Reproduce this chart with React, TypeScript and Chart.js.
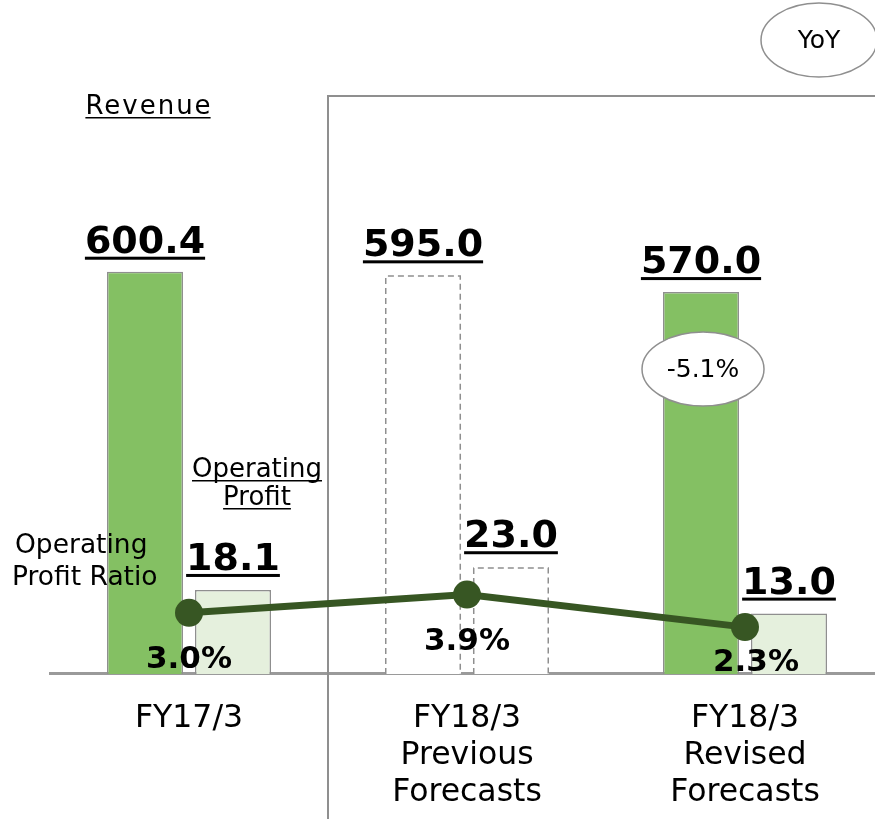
import React, { useEffect, useRef } from "react";
import { Chart, registerables } from "chart.js";

Chart.register(...registerables);

// ---- data ----
const categories: (string | string[])[] = [
  "FY17/3",
  ["FY18/3", "Previous", "Forecasts"],
  ["FY18/3", "Revised", "Forecasts"],
];
const revenue = [600.4, 595.0, 570.0];
const operatingProfit = [18.1, 23.0, 13.0];
const operatingProfitRatio = [3.0, 3.9, 2.3];
const isPreviousForecast = [false, true, false];
const yoyRevenueChange = "-5.1%";

const FONT = "'DejaVu Sans', Verdana, sans-serif";
const GRAY = "#8f8f8f";
const GREEN = "#84c063";
const LIGHT = "#e5f0dd";
const DARK = "#375623";

const CANVAS_W = 898;
const CANVAS_H = 849;

function underlinedText(
  ctx: CanvasRenderingContext2D,
  text: string,
  cx: number,
  baseline: number,
  font: string,
  ulOffset: number,
  ulThick: number,
  spacing = 0
) {
  ctx.save();
  ctx.font = font;
  (ctx as any).letterSpacing = `${spacing}px`;
  ctx.textAlign = "left";
  ctx.textBaseline = "alphabetic";
  ctx.fillStyle = "#000";
  const w = ctx.measureText(text).width - spacing;
  ctx.fillText(text, cx - w / 2, baseline);
  ctx.fillRect(cx - w / 2, baseline + ulOffset, w, ulThick);
  ctx.restore();
}

function ellipse(ctx: CanvasRenderingContext2D, cx: number, cy: number, rx: number, ry: number, text: string) {
  ctx.save();
  ctx.beginPath();
  ctx.ellipse(cx, cy, rx, ry, 0, 0, Math.PI * 2);
  ctx.fillStyle = "#fff";
  ctx.fill();
  ctx.lineWidth = 1.5;
  ctx.strokeStyle = GRAY;
  ctx.stroke();
  ctx.fillStyle = "#000";
  ctx.font = `25px ${FONT}`;
  ctx.textAlign = "center";
  ctx.textBaseline = "middle";
  ctx.fillText(text, cx, cy + 1);
  ctx.restore();
}

const decorPlugin = {
  id: "decor",
  beforeDatasetsDraw(chart: any) {
    const { ctx, chartArea, scales } = chart;
    const xDiv = scales.x.getPixelForValue(0.5);
    ctx.save();
    ctx.strokeStyle = GRAY;
    ctx.lineWidth = 2;
    ctx.beginPath();
    ctx.moveTo(xDiv, chart.height);
    ctx.lineTo(xDiv, chartArea.top);
    ctx.lineTo(chart.width, chartArea.top);
    ctx.stroke();
    ctx.restore();
  },
  beforeDatasetDraw(chart: any, args: any) {
    if (args.index !== 0) return;
    const { ctx } = chart;
    // dashed outlines for the previous-forecast bars (drawn under the ratio line)
    ctx.save();
    ctx.strokeStyle = GRAY;
    ctx.lineWidth = 1.5;
    ctx.setLineDash([6, 4]);
    [1, 2].forEach((di) => {
      const meta = chart.getDatasetMeta(di);
      meta.data.forEach((bar: any, i: number) => {
        if (!isPreviousForecast[i]) return;
        const l = bar.x - bar.width / 2 + 0.75;
        const r = bar.x + bar.width / 2 - 0.75;
        ctx.beginPath();
        ctx.moveTo(l, bar.base);
        ctx.lineTo(l, bar.y + 0.75);
        ctx.lineTo(r, bar.y + 0.75);
        ctx.lineTo(r, bar.base);
        ctx.stroke();
      });
    });
    ctx.restore();
  },
  afterDatasetsDraw(chart: any) {
    const { ctx } = chart;
    ctx.save();
    const revMeta = chart.getDatasetMeta(1);
    const opMeta = chart.getDatasetMeta(2);
    revMeta.data.forEach((bar: any, i: number) => {
      underlinedText(ctx, revenue[i].toFixed(1), bar.x, bar.y - 19, `bold 38px ${FONT}`, 4, 3);
    });
    opMeta.data.forEach((bar: any, i: number) => {
      underlinedText(ctx, operatingProfit[i].toFixed(1), bar.x, bar.y - 20, `bold 38px ${FONT}`, 4, 3);
    });
    const lineMeta = chart.getDatasetMeta(0);
    const bottom = chart.chartArea.bottom;
    ctx.font = `bold 31px ${FONT}`;
    ctx.textAlign = "center";
    ctx.textBaseline = "alphabetic";
    ctx.fillStyle = "#000";
    lineMeta.data.forEach((pt: any, i: number) => {
      let by = pt.y + 55;
      let bx = pt.x;
      if (by > bottom - 3) {
        by = bottom - 3;
        bx = pt.x + 11;
      }
      ctx.fillText(operatingProfitRatio[i].toFixed(1) + "%", bx, by);
    });

    underlinedText(ctx, "Revenue", 148, 114, `26px ${FONT}`, 3, 1.5, 2);
    underlinedText(ctx, "Operating", 257, 477, `26px ${FONT}`, 3, 1.5);
    underlinedText(ctx, "Profit", 257, 505, `26px ${FONT}`, 3, 1.5);
    ctx.font = `26.5px ${FONT}`;
    ctx.textAlign = "left";
    ctx.fillStyle = "#000";
    ctx.fillText("Operating", 15, 553);
    ctx.fillText("Profit Ratio", 12, 585);

    ellipse(ctx, 819, 40, 58, 37, "YoY");
    const rb = revMeta.data[2];
    ellipse(ctx, rb.x + 2, rb.y + 77, 61, 37, yoyRevenueChange);
    ctx.restore();
  },
};

export default function App() {
  const ref = useRef<HTMLCanvasElement | null>(null);
  useEffect(() => {
    if (!ref.current) return;
    const chart = new Chart(ref.current, {
      type: "bar",
      data: {
        labels: categories as any,
        datasets: [
          {
            type: "line",
            label: "Operating Profit Ratio",
            data: operatingProfitRatio,
            yAxisID: "yRatio",
            borderColor: DARK,
            backgroundColor: DARK,
            borderWidth: 7,
            pointRadius: 14,
            pointBorderWidth: 0,
            pointBackgroundColor: DARK,
            order: 0,
          } as any,
          {
            label: "Revenue",
            data: revenue,
            yAxisID: "yRev",
            backgroundColor: isPreviousForecast.map((p) => (p ? "#ffffff" : GREEN)),
            borderColor: isPreviousForecast.map((p) => (p ? "rgba(0,0,0,0)" : GRAY)),
            borderWidth: isPreviousForecast.map((p) => (p ? 0 : 1.5)),
            order: 1,
          },
          {
            label: "Operating Profit",
            data: operatingProfit,
            yAxisID: "yOp",
            backgroundColor: isPreviousForecast.map((p) => (p ? "#ffffff" : LIGHT)),
            borderColor: isPreviousForecast.map((p) => (p ? "rgba(0,0,0,0)" : GRAY)),
            borderWidth: isPreviousForecast.map((p) => (p ? 0 : 1.5)),
            order: 1,
          },
        ],
      },
      options: {
        responsive: false,
        maintainAspectRatio: false,
        animation: false,
        devicePixelRatio: 1,
        layout: { padding: { top: 96, left: 50, right: 6, bottom: 11 } },
        datasets: {
          bar: { categoryPercentage: 0.633, barPercentage: 0.864 },
        },
        plugins: {
          legend: { display: false },
          tooltip: { enabled: false },
        },
        scales: {
          x: {
            grid: { display: false, drawTicks: false },
            border: { display: true, color: "#9a9a9a", width: 3 },
            ticks: {
              color: "#000",
              font: { family: FONT, size: 31.5, lineHeight: 1.165 },
              padding: 27,
              maxRotation: 0,
              autoSkip: false,
            },
          },
          yRev: { display: false, min: 0, max: 862.7 },
          yOp: { display: false, min: 0, max: 124.6 },
          yRatio: { display: false, min: 0, max: 28.4 },
        },
      },
      plugins: [decorPlugin],
    });
    return () => chart.destroy();
  }, []);

  return (
    <div
      style={{
        position: "fixed",
        left: 0,
        top: 0,
        width: 875,
        height: 819,
        overflow: "hidden",
        background: "#fff",
      }}
    >
      <div style={{ width: CANVAS_W, height: CANVAS_H }}>
        <canvas
          ref={ref}
          width={CANVAS_W}
          height={CANVAS_H}
          style={{ display: "block", width: CANVAS_W, height: CANVAS_H }}
        />
      </div>
    </div>
  );
}
